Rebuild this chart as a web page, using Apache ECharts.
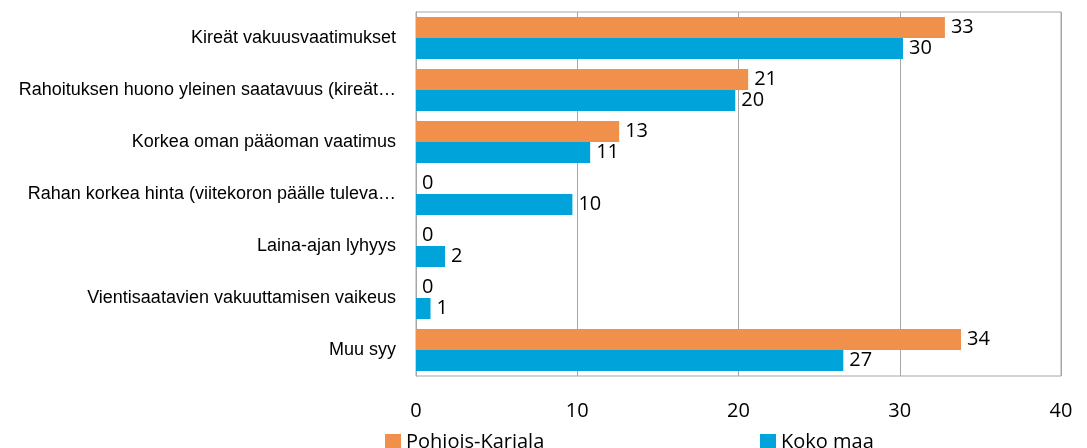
<!DOCTYPE html>
<html>
<head>
<meta charset="utf-8">
<script src="https://cdn.jsdelivr.net/npm/echarts@6/dist/echarts.min.js"></script>
<style>
  html, body { margin: 0; padding: 0; background: #fff; }
  #chart { width: 1087px; height: 448px; }
</style>
</head>
<body>
<div id="chart"></div>
<script>
// syyt, ylhäältä alas
const categories = [
  'Kireät vakuusvaatimukset',
  'Rahoituksen huono yleinen saatavuus (kireät…',
  'Korkea oman pääoman vaatimus',
  'Rahan korkea hinta (viitekoron päälle tuleva…',
  'Laina-ajan lyhyys',
  'Vientisaatavien vakuuttamisen vaikeus',
  'Muu syy'
];
const pohjoisKarjala = [32.8, 20.6, 12.6, 0, 0, 0, 33.8];
const kokoMaa = [30.2, 19.8, 10.8, 9.7, 1.8, 0.9, 26.5];
const xTicks = [0, 10, 20, 30, 40];

const chart = echarts.init(document.getElementById('chart'), null, { renderer: 'canvas' });
const font = '"Open Sans", "Liberation Sans", sans-serif';

const labelStyle = {
  show: true,
  position: 'right',
  distance: 6,
  color: '#000',
  fontSize: 20,
  fontFamily: font,
  formatter: p => Math.round(p.value)
};

const option = {
  backgroundColor: '#fff',
  animation: false,
  grid: {
    left: 416, right: 26, top: 12, bottom: 72,
    show: true, borderColor: '#a6a6a6', borderWidth: 1
  },
  legend: [{
    data: ['Pohjois-Karjala'],
    left: 380, top: 427,
    itemWidth: 16, itemHeight: 16, itemGap: 6,
    icon: 'rect',
    textStyle: { fontSize: 20, fontFamily: font, color: '#000' }
  }, {
    data: ['Koko maa'],
    left: 755, top: 427,
    itemWidth: 16, itemHeight: 16, itemGap: 6,
    icon: 'rect',
    textStyle: { fontSize: 20, fontFamily: font, color: '#000' }
  }],
  xAxis: {
    type: 'value',
    min: xTicks[0], max: xTicks[xTicks.length - 1], interval: 10,
    axisLine: { show: false },
    axisTick: { show: false },
    axisLabel: { fontSize: 20, fontFamily: font, color: '#000', margin: 25 },
    splitLine: { show: true, lineStyle: { color: '#a6a6a6', width: 1 } }
  },
  yAxis: {
    type: 'category',
    inverse: true,
    data: categories,
    axisLine: { show: true, lineStyle: { color: '#a6a6a6' } },
    axisTick: { show: false },
    axisLabel: { fontSize: 18, fontFamily: '"Liberation Sans", "Open Sans", sans-serif', color: '#000', margin: 20 }
  },
  series: [{
    name: 'Pohjois-Karjala',
    type: 'bar',
    data: pohjoisKarjala,
    barWidth: 21,
    barGap: '0%',
    itemStyle: { color: '#F0904A' },
    label: labelStyle
  }, {
    name: 'Koko maa',
    type: 'bar',
    data: kokoMaa,
    barWidth: 21,
    barGap: '0%',
    itemStyle: { color: '#00A3DA' },
    label: labelStyle
  }]
};

chart.setOption(option);
</script>
</body>
</html>
